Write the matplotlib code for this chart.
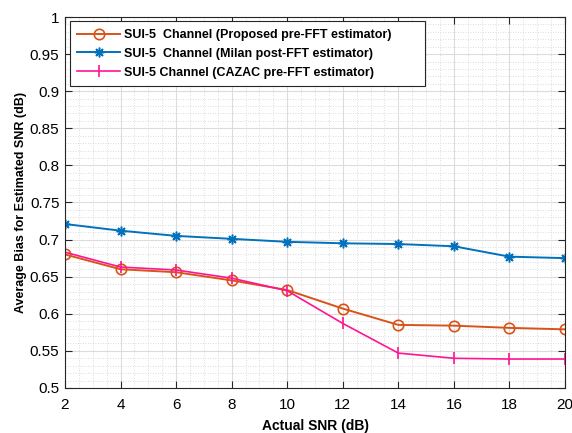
import numpy as np
import matplotlib
matplotlib.use("Agg")
import matplotlib.pyplot as plt
from matplotlib.ticker import MultipleLocator, FuncFormatter

# Daten
snr = [2, 4, 6, 8, 10, 12, 14, 16, 18, 20]
proposed = [0.680, 0.660, 0.656, 0.645, 0.632, 0.607, 0.585, 0.584, 0.581, 0.579]
milan = [0.721, 0.712, 0.705, 0.701, 0.697, 0.695, 0.694, 0.691, 0.677, 0.675]
cazac = [0.683, 0.663, 0.659, 0.648, 0.631, 0.587, 0.547, 0.540, 0.539, 0.539]

labels = ["SUI-5  Channel (Proposed pre-FFT estimator)",
          "SUI-5  Channel (Milan post-FFT estimator)",
          "SUI-5 Channel (CAZAC pre-FFT estimator)"]

plt.rcParams["font.family"] = ["Liberation Sans", "DejaVu Sans"]

fig = plt.figure(figsize=(5.72, 4.33), dpi=100)
ax = fig.add_axes([0.1136, 0.104, 0.8742, 0.8567])

ax.plot(snr, proposed, color="#D95319", marker="o", markersize=7.5, markerfacecolor="none",
        markeredgewidth=1.2, linewidth=1.4, label=labels[0])
ax.plot(snr, milan, color="#0072BD", marker=(8, 2, 0), markersize=7, markeredgewidth=1.1,
        linewidth=1.4, label=labels[1])
ax.plot(snr, cazac, color="#FF1493", marker="|", markersize=9, markeredgewidth=1.2,
        linewidth=1.2, label=labels[2])

ax.set_xlim(2, 20)
ax.set_ylim(0.5, 1)
ax.xaxis.set_major_locator(MultipleLocator(2))
ax.xaxis.set_minor_locator(MultipleLocator(0.5))
ax.yaxis.set_major_locator(MultipleLocator(0.05))
ax.yaxis.set_minor_locator(MultipleLocator(0.01))
ax.yaxis.set_major_formatter(FuncFormatter(lambda v, p: f"{v:g}"))

ax.grid(True, which="major", color="#dcdcdc", linewidth=0.8)
ax.grid(True, which="minor", color="#d0d0d0", linestyle=(0, (1, 2)), linewidth=0.6)
ax.tick_params(which="both", direction="in", top=True, right=True, labelsize=11, color="#262626")
ax.tick_params(which="minor", length=0)
ax.tick_params(which="major", length=5)
ax.tick_params(axis="x", pad=7)
ax.tick_params(axis="y", pad=4)
for s in ax.spines.values():
    s.set_color("#262626")

ax.set_xlabel("Actual SNR (dB)", fontsize=10, fontweight="bold", labelpad=5)
ax.set_ylabel("Average Bias for Estimated SNR (dB)", fontsize=9, fontweight="bold")
ax.yaxis.set_label_coords(-0.075, 0.5)

leg = ax.legend(loc="upper left", bbox_to_anchor=(0.01, 0.5, 0.71, 0.488), mode="expand",
                borderaxespad=0, fancybox=False, framealpha=1, edgecolor="#262626",
                prop={"weight": "bold", "size": 9}, handlelength=3.4, handletextpad=0.35,
                borderpad=0.6, labelspacing=0.55)
leg.get_frame().set_linewidth(0.8)

plt.savefig("out.png", dpi=100)
